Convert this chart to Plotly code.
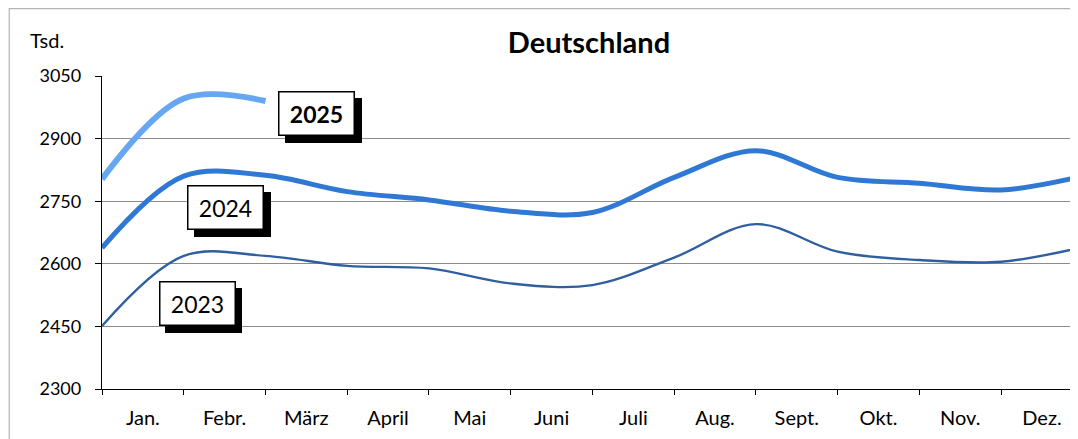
import plotly.graph_objects as go

months = ["Jan.", "Febr.", "März", "April", "Mai", "Juni", "Juli", "Aug.", "Sept.", "Okt.", "Nov.", "Dez."]
pos = list(range(13))
v2023 = [2451, 2619, 2619, 2595, 2589, 2553, 2549, 2615, 2695, 2629, 2609, 2605, 2640]
v2024 = [2638, 2810, 2812, 2773, 2753, 2726, 2723, 2807, 2871, 2807, 2793, 2777, 2810]
v2025 = [2803, 2996, 2990]
yticks = [2300, 2450, 2600, 2750, 2900, 3050]

OFF = 8  # page body margin
W, H = 1078 - OFF, 439 - OFF
L, T = 101.5 - OFF, 76 - OFF
B = H - (389 - OFF)
step = 81.78
R = (W - L) / step
FONT = "Lato"

fig = go.Figure()
fig.add_trace(go.Scatter(x=pos, y=v2023, mode="lines",
                         line=dict(color="#2f5f9e", width=2.4, shape="spline", smoothing=1.0)))
fig.add_trace(go.Scatter(x=pos, y=v2024, mode="lines",
                         line=dict(color="#2f78d4", width=5, shape="spline", smoothing=1.0)))
fig.add_trace(go.Scatter(x=pos[:len(v2025)], y=v2025, mode="lines",
                         line=dict(color="#67a7f2", width=6, shape="spline", smoothing=1.0)))

pw = W - L
ph = H - T - B
def px(xi):
    return (xi - OFF - L) / pw
def py(yi):
    return 1 - (yi - OFF - T) / ph

# border
fig.add_shape(type="rect", xref="paper", yref="paper",
              x0=px(8.7), x1=px(1078 + 30), y0=py(439 + 30), y1=py(8.7),
              line=dict(color="#b4b4b4", width=1.2), layer="below")

# labeled boxes with shadow
boxes = [("2025", 316.5, 113.5, True), ("2024", 225.5, 207.5, False), ("2023", 197, 303.5, False)]
for txt, cx, cy, bold in boxes:
    t = f"<b>{txt}</b>" if bold else txt
    # shadow box
    fig.add_annotation(xref="paper", yref="paper", x=px(cx), y=py(cy),
                       xanchor="center", yanchor="middle",
                       text=" ", showarrow=False, width=74, height=42,
                       xshift=6.5, yshift=-6.5,
                       font=dict(family=FONT, size=23, color="black"),
                       bgcolor="black", bordercolor="black", borderwidth=1.5, borderpad=0)
    fig.add_annotation(xref="paper", yref="paper", x=px(cx), y=py(cy),
                       xanchor="center", yanchor="middle",
                       text=t, showarrow=False, width=74, height=42,
                       font=dict(family=FONT, size=23, color="black"),
                       bgcolor="white", bordercolor="black", borderwidth=1.5, borderpad=0)

fig.add_annotation(xref="paper", yref="paper", x=px(27.5), y=py(40), xanchor="left", yanchor="middle",
                   text="Tsd.", showarrow=False, font=dict(family=FONT, size=20, color="black"))

fig.update_layout(
    width=W, height=H,
    margin=dict(l=L, r=0, t=T, b=B),
    paper_bgcolor="white", plot_bgcolor="white",
    showlegend=False,
    title=dict(text="<b>Deutschland</b>", x=(589 - OFF) / W, xanchor="center", y=1 - (43 - OFF) / H,
               yanchor="middle", font=dict(family=FONT, size=29, color="black")),
    xaxis=dict(range=[0, R], tickvals=[p + 0.5 for p in range(12)], ticktext=months,
               ticks="", showgrid=False, zeroline=False, showline=True, linecolor="black", linewidth=1.3,
               tickfont=dict(family=FONT, size=20, color="black"), ticklabelstandoff=11,
               minor=dict(tickvals=pos, ticks="outside", ticklen=5, tickcolor="black", tickwidth=1.2, showgrid=False)),
    xaxis2=dict(range=[0, R], overlaying="x", anchor="y", tickvals=pos, ticks="inside", ticklen=5,
                tickcolor="black", tickwidth=1.2, showticklabels=False, showgrid=False, zeroline=False, showline=False),
    yaxis=dict(range=[2300, 3050], tickvals=yticks, ticks="outside", ticklen=6, tickcolor="black", tickwidth=1.2,
               showgrid=True, gridcolor="#8c8c8c", gridwidth=1.4, zeroline=False, showline=True,
               linecolor="black", linewidth=1.3, tickfont=dict(family=FONT, size=18, color="black"),
               ticklabelstandoff=10),
    yaxis2=dict(range=[2300, 3050], overlaying="y", anchor="x", side="left", tickvals=yticks, ticks="inside",
                ticklen=6, tickcolor="black", tickwidth=1.2, showticklabels=False, showgrid=False,
                zeroline=False, showline=False),
)

fig.write_html("out.html")
